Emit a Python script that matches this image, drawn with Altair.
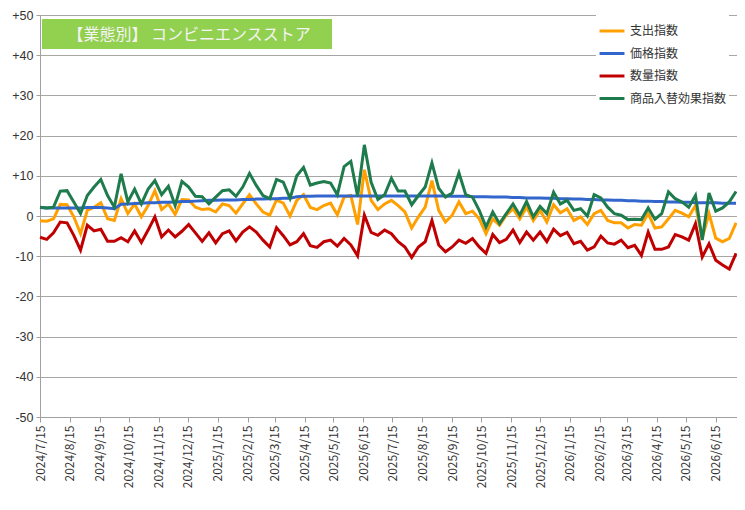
import pandas as pd
import altair as alt

# weekly index values, starting 2024/7/15
start_date = "2024-07-15"
n_weeks = 104

spending = [
    -1.2, -1.3, -0.7, 2.9, 2.8, -0.2, -4.4, 1.4, 2.2, 3.3, -0.7, -1.1, 4.3, 0.6,
    3.0, -0.2, 2.6, 6.3, 1.6, 3.0, 0.4, 4.1, 4.0, 2.2, 1.6, 1.8, 1.0,
    3.0, 2.6, 0.7, 3.0, 5.3, 3.0, 1.0, 0.2, 4.0, 3.2, 0.0, 3.9, 5.3, 2.1, 1.6,
    2.6, 3.2, 0.3, 4.7, 5.1, -2.1, 11.5, 3.9, 1.6, 3.0,
    3.9, 2.6, 1.0, -3.0, -0.2, 2.2, 8.8, 1.4, -1.5, 0.2, 3.5, 0.6, 1.2, -0.7,
    -4.4, -0.7, -2.3, 0.2, 1.8, -0.7, 2.2, -1.1, 1.4, -1.5, 2.8, 0.8,
    1.8, -1.1, -0.2, -2.1, 0.6, 1.4, -1.1, -1.7, -1.7, -3.0, -2.1, -2.3, 0.6,
    -3.0, -2.7, -0.7, 1.4, 0.7, -0.2, 2.6, -5.5, 0.6, -5.5, -6.4, -5.6, -1.7,
]
price = [
    2.1, 2.0, 2.0, 2.0, 2.0, 2.0, 2.0, 2.1, 2.1, 2.1, 2.0, 1.8,
    2.9, 3.0, 3.1, 3.2, 3.3, 3.3, 3.4, 3.4, 3.5, 3.6, 3.6, 3.7, 3.8, 3.9,
    3.9, 4.0, 4.0, 4.0, 4.1, 4.1, 4.2, 4.2, 4.3, 4.3, 4.4, 4.4,
    4.8, 4.9, 4.9, 5.0, 5.0, 5.0, 5.0, 5.0, 5.0, 5.0, 5.0, 5.0, 5.0, 5.0,
    5.0, 5.0, 5.0, 5.0, 5.0, 5.0, 5.0, 5.0, 5.0,
    4.9, 4.9, 4.9, 4.8, 4.8, 4.8, 4.7, 4.7, 4.7, 4.6, 4.6, 4.5, 4.5, 4.5, 4.4, 4.4,
    4.3, 4.3, 4.2, 4.2, 4.1, 4.1, 4.0, 4.0, 3.9, 3.9, 3.8, 3.8, 3.7, 3.7,
    3.6, 3.6, 3.5, 3.5, 3.4, 3.4, 3.3, 3.3, 3.3, 3.3, 3.2, 3.2, 3.2,
]
quantity = [
    -5.3, -5.8, -4.2, -1.5, -1.7, -4.8, -8.5, -2.3, -3.7, -3.3, -6.3, -6.3, -5.4,
    -6.4, -3.7, -6.6, -3.5, -0.2, -5.2, -3.5, -5.2, -3.8, -2.1, -4.2, -6.3, -4.2, -6.7,
    -4.4, -3.7, -6.2, -4.0, -2.7, -4.0, -6.0, -7.7, -2.9, -4.9, -7.2, -6.4, -4.4,
    -7.4, -7.8, -6.4, -6.0, -7.5, -5.6, -7.2, -9.9, 0.2, -4.1, -4.8, -3.5,
    -4.4, -6.4, -7.7, -10.3, -7.7, -6.4, -1.1, -7.2, -8.9, -7.7, -6.0, -6.8, -5.6,
    -7.7, -9.3, -4.6, -6.6, -5.8, -3.5, -6.6, -4.0, -6.0, -4.0, -6.4, -3.3, -4.9,
    -4.1, -6.9, -6.3, -8.5, -7.7, -5.0, -6.7, -7.0, -6.0, -7.9, -7.3, -9.8, -4.0,
    -8.3, -8.3, -7.7, -4.6, -5.2, -6.0, -1.9, -10.2, -6.9, -11.0, -12.2, -13.2, -9.3,
]
assortment = [
    2.2, 2.0, 2.2, 6.2, 6.3, 3.5, 0.6, 5.1, 7.2, 9.1, 5.1, 2.2, 10.5, 3.5, 6.7,
    3.0, 6.7, 8.8, 5.3, 7.4, 2.6, 8.6, 7.2, 4.9, 4.8, 3.0, 4.7,
    6.3, 6.5, 4.9, 7.2, 10.6, 7.6, 5.1, 4.3, 9.1, 8.4, 4.4, 10.0, 12.1, 7.7, 8.2,
    8.6, 8.2, 5.3, 12.3, 13.6, 4.9, 17.7, 8.4, 4.1, 5.3,
    9.4, 6.2, 6.2, 2.8, 5.1, 7.2, 13.2, 6.9, 4.7, 5.7, 10.7, 5.3, 4.7, 1.4, -2.7,
    1.0, -1.9, 0.6, 3.0, 0.2, 3.6, -0.2, 2.4, 0.6, 5.9, 3.0,
    3.9, 1.4, 1.8, 0.0, 5.3, 4.5, 2.2, 0.6, 0.2, -0.9, -0.8, -0.9, 2.0, -0.8,
    0.6, 6.0, 4.3, 3.5, 2.2, 5.1, -6.0, 5.7, 1.2, 2.0, 3.5, 6.1,
]

series_names = ["支出指数", "価格指数", "数量指数", "商品入替効果指数"]
series_colors = ["#FF9F00", "#3366CC", "#C00000", "#1E7B4C"]

tick_labels = [
    "2024/7/15", "2024/8/15", "2024/9/15", "2024/10/15", "2024/11/15", "2024/12/15",
    "2025/1/15", "2025/2/15", "2025/3/15", "2025/4/15", "2025/5/15", "2025/6/15",
    "2025/7/15", "2025/8/15", "2025/9/15", "2025/10/15", "2025/11/15", "2025/12/15",
    "2026/1/15", "2026/2/15", "2026/3/15", "2026/4/15", "2026/5/15", "2026/6/15",
]
chart_title = "【業態別】 コンビニエンスストア"
font = "Noto Sans CJK JP"
num_font = "Liberation Sans"

# %%
dates = pd.date_range(start_date, periods=n_weeks, freq="7D").strftime("%Y-%m-%d")
frames = []
for k, (name, vals) in enumerate(zip(series_names, [spending, price, quantity, assortment])):
    frames.append(pd.DataFrame({"date": dates, "value": vals, "series": name, "k": k}))
df = pd.concat(frames, ignore_index=True)


def to_dt(s):
    y, m, d = [int(p) for p in s.split("/")]
    return alt.DateTime(year=y, month=m, date=d, utc=True)


tick_values = [to_dt(t) for t in tick_labels]

lines = (
    alt.Chart(df)
    .mark_line(strokeWidth=3)
    .encode(
        x=alt.X(
            "date:T",
            title=None,
            scale=alt.Scale(type="utc", domain=[to_dt("2024/7/15"), to_dt("2026/7/7")]),
            axis=alt.Axis(
                values=tick_values,
                format="%Y/%-m/%-d",
                labelAngle=-90,
                labelFontSize=12,
                labelFont=font,
                labelColor="#333333",
                labelPadding=3,
                tickSize=5,
                tickColor="#A0A0A0",
                domainColor="#A0A0A0",
                grid=False,
                labelOverlap=False,
            ),
        ),
        y=alt.Y(
            "value:Q",
            title=None,
            scale=alt.Scale(domain=[-50, 50], nice=False),
            axis=alt.Axis(
                values=list(range(-50, 51, 10)),
                labelExpr="datum.value > 0 ? '+' + datum.value : '' + datum.value",
                labelFontSize=12.5,
                labelFont=num_font,
                labelColor="#333333",
                labelPadding=3,
                tickSize=4,
                tickColor="#A0A0A0",
                domainColor="#A0A0A0",
                gridColor="#A6A6A6",
                gridWidth=1.2,
            ),
        ),
        color=alt.Color(
            "series:N",
            scale=alt.Scale(domain=series_names, range=series_colors),
            legend=alt.Legend(
                title=None,
                orient="none",
                legendX=556,
                legendY=0,
                fillColor="white",
                padding=2,
                symbolType="stroke",
                symbolStrokeWidth=3,
                symbolSize=620,
                rowPadding=2.5,
                labelFontSize=12,
                labelFont=font,
                labelColor="#333333",
                labelOffset=4,
            ),
        ),
        order="k:Q",
    )
)

box_src = pd.DataFrame({"t": [chart_title]})
box = alt.Chart(box_src).mark_rect(color="#92D050").encode(
    x=alt.value(2), x2=alt.value(292), y=alt.value(4), y2=alt.value(34)
)
box_text = alt.Chart(box_src).mark_text(
    fontSize=16, font=font, color="#F4F4F4", align="center", baseline="middle"
).encode(x=alt.value(149), y=alt.value(19.5), text="t:N")

chart = (
    alt.layer(lines, box, box_text)
    .properties(
        width=697,
        height=402,
        autosize=alt.AutoSizeParams(type="none"),
        padding={"left": 32, "top": 7, "right": 0, "bottom": 85},
    )
    .configure_view(stroke=None)
    .configure(background="white")
)

chart.save("out.html", embed_options={"renderer": "svg", "actions": False})
